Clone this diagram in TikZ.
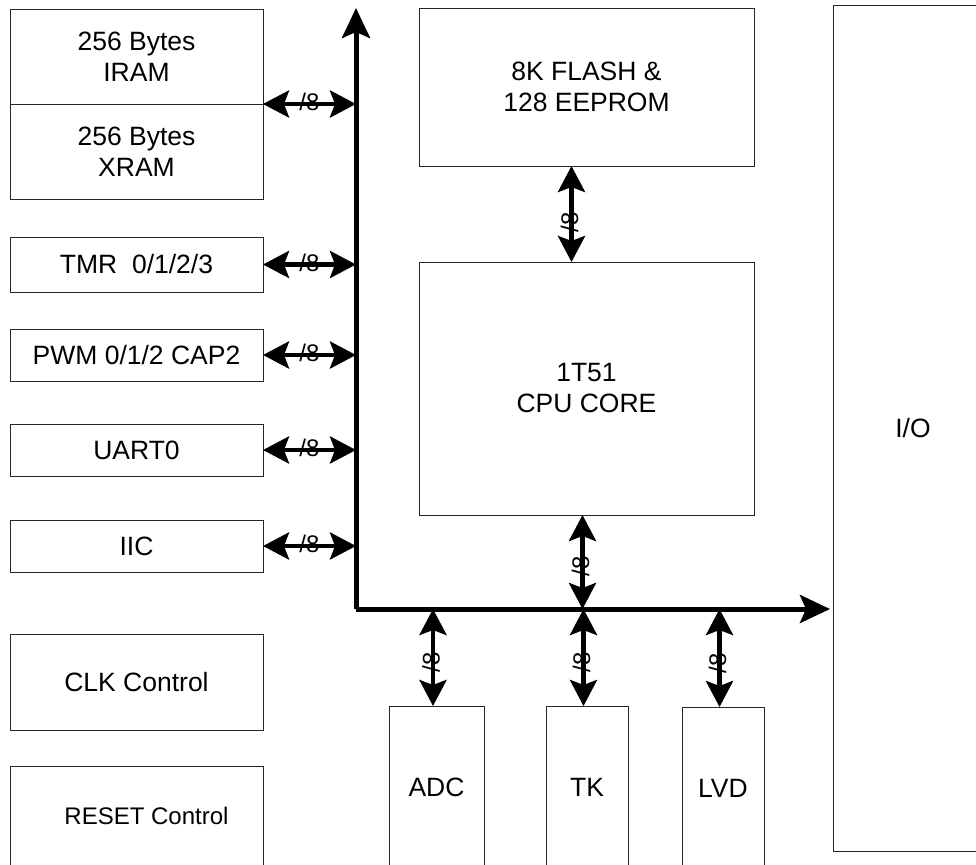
\documentclass[tikz,border=0pt]{standalone}
\usepackage{fontspec}
\setmainfont{Liberation Sans}
\usetikzlibrary{calc,arrows.meta}

\begin{document}
\begin{tikzpicture}[x=1pt,y=-1pt,inner sep=0pt,outer sep=0pt,
    blk/.style={draw=black!85,line width=0.9pt,align=center,anchor=north west,
        font=\fontsize{26.5}{31}\selectfont},
    bus/.style={line width=5pt,-{Stealth[length=30pt,width=28pt,inset=6pt]}},
    link/.style={line width=4.5pt,
        {Stealth[length=26pt,width=27pt,inset=5pt]}-{Stealth[length=26pt,width=27pt,inset=5pt]}},
    lbl/.style={font=\fontsize{24}{24}\selectfont}]
    \useasboundingbox (0,0) rectangle (976,864);

    % memories and peripherals on the left
    \node[blk,minimum width=253pt,minimum height=95pt] (iram) at (10,9) {256 Bytes\\IRAM};
    \node[blk,minimum width=253pt,minimum height=95pt] (xram) at (iram.south west) {256 Bytes\\XRAM};
    \node[blk,minimum width=253pt,minimum height=55pt] (tmr) at (10,237) {TMR\ \ 0/1/2/3};
    \node[blk,minimum width=253pt,minimum height=52pt] (pwm) at (10,329) {PWM 0/1/2 CAP2};
    \node[blk,minimum width=253pt,minimum height=52pt] (uart) at (10,424) {UART0};
    \node[blk,minimum width=253pt,minimum height=52pt] (iic) at (10,520) {IIC};
    \node[blk,minimum width=253pt,minimum height=96pt] (clk) at (10,634) {CLK Control};
    \node[blk,minimum width=253pt,minimum height=100pt,
        font=\fontsize{24}{29}\selectfont] (reset) at (10,766) {\hspace{20pt}RESET Control};

    % core
    \node[blk,minimum width=335pt,minimum height=158pt] (flash) at (419,8) {8K FLASH \&\\128 EEPROM};
    \node[blk,minimum width=335pt,minimum height=253pt] (cpu) at (419,262) {1T51\\CPU CORE};

    % bottom blocks and I/O
    \node[blk,minimum width=95pt,minimum height=162pt] (adc) at (389,706) {ADC};
    \node[blk,minimum width=82pt,minimum height=162pt] (tk) at (546,706) {TK};
    \node[blk,minimum width=82pt,minimum height=162pt] (lvd) at (682,707) {LVD};
    \node[blk,minimum width=160pt,minimum height=846pt] (io) at (833,5) {I/O};

    % bus
    \coordinate (corner) at (356,609);
    \coordinate (bus_top) at (356,8);
    \draw[bus] (corner) -- (bus_top);
    \draw[bus] (corner) -- ($(corner -| io.west)+(-3,0)$);

    % left links
    \draw[link] (iram.south east) -- (iram.south east -| corner) node[lbl,midway,yshift=2pt]{/8};
    \foreach \blk in {tmr,pwm,uart,iic}
        \draw[link] (\blk.east) -- (\blk.east -| corner) node[lbl,midway,yshift=2pt]{/8};

    % vertical links
    \coordinate (flash_bot) at ($(flash.south)+(-15,0)$);
    \draw[link] (flash_bot) -- (flash_bot |- cpu.north) node[lbl,midway,rotate=90,xshift=-8pt,yshift=2pt]{/8};
    \coordinate (cpu_bot) at ($(cpu.south)+(-4,0)$);
    \draw[link] (cpu_bot) -- (cpu_bot |- corner) node[lbl,midway,rotate=90,xshift=-4pt,yshift=2pt]{/8};
    \foreach \blk in {adc,tk,lvd} {
        \coordinate (\blk_top) at ($(\blk.north)+(-3.5,0)$);
        \draw[link] (\blk_top |- corner) -- (\blk_top) node[lbl,midway,rotate=90,xshift=-5pt,yshift=2pt]{/8};
    }
\end{tikzpicture}
\end{document}
